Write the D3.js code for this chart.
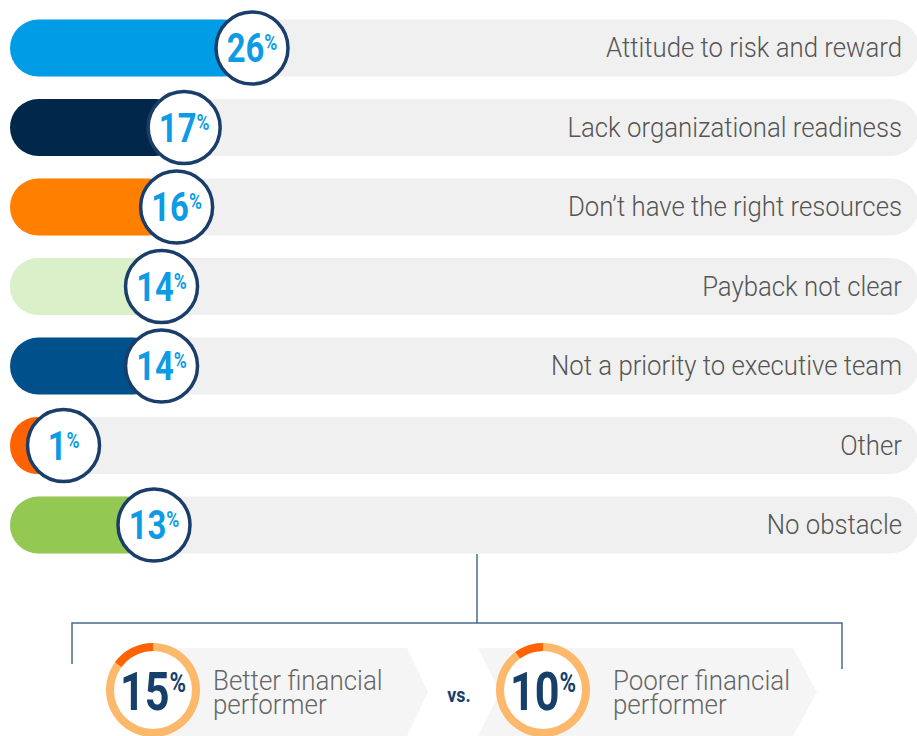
<!DOCTYPE html>
<html>
<head>
<meta charset="utf-8">
<script src="https://cdn.jsdelivr.net/npm/d3@7"></script>
<style>
  html, body { margin: 0; padding: 0; background: #fff; }
  svg { display: block; }
  text { font-family: Roboto, "Noto Sans", sans-serif; }
</style>
</head>
<body>
<svg id="chart" width="917" height="736"></svg>
<script>
const categories = [
  "Attitude to risk and reward",
  "Lack organizational readiness",
  "Don’t have the right resources",
  "Payback not clear",
  "Not a priority to executive team",
  "Other",
  "No obstacle"
];
const values = [26, 17, 16, 14, 14, 1, 13];
const compareLabels = [["Better financial", "performer"], ["Poorer financial", "performer"]];
const compareValues = [15, 10];
const compareSep = "vs.";

const barColors = ["#009de6", "#01284a", "#ff7f00", "#d9f0c9", "#00508c", "#ff6200", "#93c852"];

const svg = d3.select("#chart");

const y = d3.scalePoint().domain(categories).range([48, 525]);
const x = d3.scaleLinear().domain([0, 26]).range([56, 252]);
const color = d3.scaleOrdinal().domain(categories).range(barColors);
const barH = 57;
const condensed = 0.92;

const rows = svg.append("g").selectAll("g.row")
  .data(categories.map((c, i) => ({ c, v: values[i] })))
  .join("g").attr("class", "row");

rows.append("rect")
  .attr("x", 10).attr("y", d => y(d.c) - barH / 2)
  .attr("width", 909).attr("height", barH)
  .attr("rx", barH / 2).attr("fill", "#f0f0f0");

rows.append("rect")
  .attr("x", 10).attr("y", d => y(d.c) - barH / 2)
  .attr("width", d => x(d.v) - 10).attr("height", barH)
  .attr("rx", barH / 2).attr("fill", d => color(d.c));

rows.append("text")
  .attr("transform", d => `translate(902,${y(d.c) + 9}) scale(${condensed},1)`)
  .attr("text-anchor", "end")
  .attr("font-size", 28).attr("font-weight", 300)
  .attr("fill", "#555")
  .text(d => d.c);

rows.append("circle")
  .attr("cx", d => x(d.v)).attr("cy", d => y(d.c))
  .attr("r", 36).attr("fill", "#fff")
  .attr("stroke", "#1a3e69").attr("stroke-width", 3.5);

const num = rows.append("text")
  .attr("transform", d => `translate(${x(d.v)},${y(d.c) + 14}) scale(0.8,1)`)
  .attr("text-anchor", "middle")
  .attr("font-weight", 700).attr("fill", "#0e9be6");
num.append("tspan").attr("font-size", 41).text(d => d.v);
num.append("tspan").attr("font-size", 22).attr("dy", -12).text("%");

// connector lines
const lc = "#4a6a8c";
const conn = svg.append("g").attr("stroke", lc).attr("stroke-width", 1.5).attr("fill", "none");
conn.append("line").attr("x1", 477).attr("x2", 477).attr("y1", 554).attr("y2", 623);
conn.append("path").attr("d", "M72,664 V623 H842 V669");

// comparison items
const cx = [153, 543];
const labelX = [213, 613];
const cy = 690;
const arc = d3.arc().innerRadius(39).outerRadius(47);
compareValues.forEach((v, i) => {
  const g = svg.append("g");
  const left = i === 0 ? 150 : 478;
  const right = i === 0 ? 407 : 793;
  const pts = i === 0
    ? [[left, 648], [right, 648], [right + 21, 692], [right, 736], [left, 736]]
    : [[left, 648], [right, 648], [right + 24, 692], [right, 736], [left, 736], [left + 22, 692]];
  g.append("polygon").attr("points", pts.map(p => p.join(",")).join(" ")).attr("fill", "#f5f5f5");
  g.append("circle").attr("cx", cx[i]).attr("cy", cy).attr("r", 43).attr("fill", "#fff");
  g.append("path").attr("transform", `translate(${cx[i]},${cy})`)
    .attr("d", arc({ startAngle: 0, endAngle: 2 * Math.PI })).attr("fill", "#fdb96b");
  g.append("path").attr("transform", `translate(${cx[i]},${cy})`)
    .attr("d", arc({ startAngle: -v / 100 * 2 * Math.PI, endAngle: 0 })).attr("fill", "#ff6200");
  const t = g.append("text")
    .attr("transform", `translate(${cx[i]},${cy + 20}) scale(0.8,1)`)
    .attr("text-anchor", "middle").attr("font-weight", 700).attr("fill", "#163f6a");
  t.append("tspan").attr("font-size", 54).text(v);
  t.append("tspan").attr("font-size", 28).attr("dy", -18).text("%");
  const lab = g.append("text")
    .attr("transform", `translate(${labelX[i]},${cy}) scale(0.96,1)`)
    .attr("font-size", 27).attr("font-weight", 300).attr("fill", "#666");
  lab.append("tspan").attr("x", 0).attr("y", 0).text(compareLabels[i][0]);
  lab.append("tspan").attr("x", 0).attr("y", 24).text(compareLabels[i][1]);
});
svg.append("text")
  .attr("transform", `translate(459,702) scale(0.85,1)`)
  .attr("text-anchor", "middle").attr("font-size", 21).attr("font-weight", 700)
  .attr("fill", "#163f6a").text(compareSep);
</script>
</body>
</html>
